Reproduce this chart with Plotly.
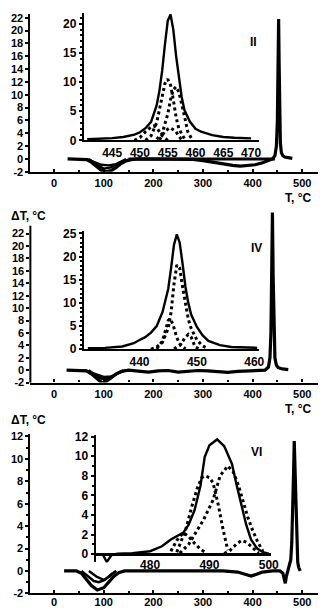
import plotly.graph_objects as go

W, H = 326, 610

# ---------------- Panel II (top) : main DTA curve ----------------
p1_main_T = [27, 40, 55, 65, 75, 85, 95, 105, 115, 125, 135, 145, 155, 170, 200, 250, 280, 300,
             320, 340, 360, 375, 390, 405, 420, 432, 440, 445, 448, 450, 451.5, 452.5, 453.5,
             454.5, 456, 458, 461, 465, 472, 480]
p1_main_dT = [0, 0, 0, -0.1, -0.5, -1.2, -1.75, -1.95, -1.8, -1.3, -0.7, -0.3, -0.1, 0, 0, 0, -0.05,
              -0.25, -0.5, -0.8, -1.0, -1.1, -1.05, -0.9, -0.6, -0.3, 0, 0.5, 2, 6, 14, 21.8, 15,
              7, 2.5, 1.0, 0.5, 0.3, 0.2, 0.1]
p1_base_T = [150, 300, 445]
p1_base_dT = [0, 0, 0]
p1_dipB_T = [65, 80, 95, 110, 125, 140, 155]
p1_dipB_dT = [0, -0.5, -0.9, -1.0, -0.8, -0.35, 0]
p1_dipC_T = [70, 85, 100, 115, 130, 145]
p1_dipC_dT = [0, -0.9, -1.5, -1.3, -0.6, 0]

# Panel II inset
i1_sum_T = [440.5, 443, 445, 447, 449, 450, 451, 452, 453, 453.5, 454, 454.5, 455, 455.5, 456,
            456.5, 457, 457.5, 458, 459, 460, 461, 463, 465, 467, 470]
i1_sum_dT = [0.2, 0.3, 0.4, 0.6, 1.0, 1.4, 2.1, 3.2, 6, 8.5, 12, 16.5, 20.5, 21.6, 19, 14.5, 10.5,
             7.5, 5.2, 3.2, 2.0, 1.5, 0.9, 0.6, 0.45, 0.35]
i1_a_T = [451, 452, 453, 454, 454.5, 455, 455.5, 456, 456.5, 457, 458]
i1_a_dT = [0, 0.8, 3, 7.5, 9.8, 10.5, 9.5, 7, 4, 2, 0.3]
i1_b_T = [453, 454, 455, 455.5, 456, 456.5, 457, 457.5, 458, 458.6, 459.3]
i1_b_dT = [0.2, 1.2, 4.5, 7, 8.7, 9.2, 8.3, 6.5, 4.2, 1.5, 0.3]
i1_c_T = [449, 450, 451, 452, 452.5, 453, 454, 455]
i1_c_dT = [0, 0.5, 1.5, 2.3, 2.5, 2.2, 0.8, 0]
i1_d_T = [453.5, 454.5, 455.4, 456.4, 457.5]
i1_d_dT = [0.1, 1.6, 2.2, 1.6, 0.1]

# ---------------- Panel IV (middle) ----------------
p2_main_T = [25, 40, 55, 65, 75, 85, 95, 100, 105, 115, 125, 135, 150, 170, 190, 210, 230, 250,
             270, 290, 310, 330, 350, 370, 390, 410, 425, 432, 435, 437, 438.5, 440, 441.5, 443,
             445, 448, 452, 460, 472]
p2_main_dT = [0, 0, 0, -0.1, -0.6, -1.3, -1.95, -2.0, -1.8, -1.2, -0.6, -0.2, 0, -0.15, -0.3, -0.1,
              -0.05, -0.3, -0.2, -0.05, -0.1, -0.25, -0.35, -0.2, -0.1, -0.05, 0, 0.5, 2, 6, 14,
              25.4, 15, 6, 2, 0.8, 0.4, 0.2, 0.1]
p2_dipB_T = [60, 80, 100, 115, 130, 145]
p2_dipB_dT = [0, -0.6, -1.1, -1.0, -0.5, 0]
p2_dipC_T = [70, 85, 100, 120, 140]
p2_dipC_dT = [0, -1.0, -1.5, -0.9, 0]

# Panel IV inset
i2_sum_T = [431, 434, 437, 439, 440, 441, 442, 443, 444, 445, 445.5, 446, 446.5, 447, 447.5, 448,
            448.5, 449, 450, 451, 452, 454, 456, 458, 460.5]
i2_sum_dT = [0.2, 0.3, 0.6, 1.3, 2.0, 2.6, 3.6, 5, 8, 13, 17.5, 22.5, 24.8, 23, 18.5, 13.5, 10,
             7.5, 4.8, 3, 1.8, 0.9, 0.5, 0.35, 0.3]
i2_a_T = [442, 443, 444, 445, 445.5, 446, 446.5, 447, 447.5, 448, 448.5, 449, 450, 451, 452]
i2_a_dT = [0, 0.5, 1.5, 4.5, 8, 14, 18.2, 17.5, 13.5, 9.5, 6.5, 4.5, 2, 0.7, 0.1]
i2_b_T = [443, 444, 444.5, 445, 445.3, 445.8, 446.5, 447, 448]
i2_b_dT = [0.1, 1.8, 4, 6.2, 6.6, 5.5, 2.5, 1.2, 0.1]
i2_c_T = [446, 447, 448, 448.5, 449, 449.7, 450.5]
i2_c_dT = [0.1, 0.8, 2.6, 3.2, 2.6, 0.5, 0]

# ---------------- Panel VI (bottom) ----------------
p3_main_T = [20, 35, 45, 55, 65, 75, 87, 100, 110, 120, 130, 142, 160, 200, 250, 300, 340, 370,
             385, 397, 408, 420, 440, 455, 461, 464, 466, 468, 471, 474, 477, 479, 481, 482.5,
             484, 485, 486, 487.5, 489, 491, 493, 496]
p3_main_dT = [0, 0, 0, -0.2, -0.7, -1.3, -1.7, -1.5, -1.0, -0.5, -0.15, 0, 0, 0, -0.05, 0, 0,
              -0.1, -0.3, -0.45, -0.3, -0.1, 0, 0, -0.2, -0.7, -1.1, -0.5, 0, 0.3, 1, 2.5, 5, 8.5,
              11.6, 10, 7, 4, 2, 0.8, 0.3, 0]
p3_dipB_T = [55, 68, 80, 90, 102, 115, 125]
p3_dipB_dT = [0, -0.5, -0.9, -1.0, -0.8, -0.3, 0]
p3_dipC_T = [70, 85, 100, 112, 125]
p3_dipC_dT = [0, -0.5, -0.8, -0.5, 0]

# Panel VI inset
i3_sum_T = [471, 472, 472.7, 473.5, 474.5, 477, 480, 482, 483.5, 485, 485.6, 486.5, 487.5, 488.5,
            489.2, 490, 491.3, 492.5, 493.8, 494.6, 495.4, 496.2, 497, 498, 499, 500]
i3_sum_dT = [0, 0, -0.8, -0.1, 0.05, 0.1, 0.3, 0.8, 1.5, 2.0, 2.2, 3, 4.5, 7, 9.9, 11.1, 11.7, 11,
             9.2, 7, 4.9, 3, 1.5, 0.6, 0.2, 0.05]
i3_a_T = [484.5, 486, 487, 488, 488.7, 489.3, 490, 490.6, 491.5, 492.3, 493.1]
i3_a_dT = [0.2, 2.5, 4.8, 6.8, 7.8, 8, 7.8, 7.3, 5, 2.5, 0.4]
i3_b_T = [485, 486.5, 487.7, 489, 490.6, 491.8, 493.1, 494, 494.9, 495.7, 496.5, 497.3, 498.1, 499]
i3_b_dT = [0.1, 1.0, 2.2, 3.5, 5.5, 8.0, 9.0, 8.4, 7.0, 5.3, 3.7, 2.4, 1.3, 0.3]
i3_c_T = [483.5, 484.5, 485.6, 486.5, 487.5, 488.5, 489.5]
i3_c_dT = [0.3, 1.4, 2.2, 1.8, 1.1, 0.5, 0.1]
i3_d_T = [492.5, 493.5, 494.5, 495.4, 496.3, 497.3, 498.3]
i3_d_dT = [0.05, 0.4, 1.0, 1.4, 1.2, 0.6, 0.1]

main_xticks = [0, 100, 200, 300, 400, 500]
p1_yticks = list(range(-2, 23, 2))
p2_yticks = list(range(-2, 23, 2))
p3_yticks = list(range(-2, 13, 2))
i1_xticks = [445, 450, 455, 460, 465, 470]
i1_yticks = [0, 5, 10, 15, 20]
i2_xticks = [440, 450, 460]
i2_yticks = [0, 5, 10, 15, 20, 25]
i3_xticks = [480, 490, 500]
i3_yticks = [0, 2, 4, 6, 8, 10, 12]

# -------------------------------------------------------------------
fig = go.Figure()
K = "black"


def add(x, y, ax, width=3.0, dash="solid"):
    fig.add_trace(go.Scatter(x=x, y=y, mode="lines", xaxis="x" + ax, yaxis="y" + ax,
                             line=dict(color=K, width=width, dash=dash), hoverinfo="skip",
                             showlegend=False))


# panel II
add(p1_base_T, p1_base_dT, "")
add(p1_dipB_T, p1_dipB_dT, "", 2.4)
add(p1_dipC_T, p1_dipC_dT, "", 2.4)
add(p1_main_T, p1_main_dT, "", 3.2)
add(i1_sum_T, i1_sum_dT, "2", 2.4)
add(i1_a_T, i1_a_dT, "2", 3, "dot")
add(i1_b_T, i1_b_dT, "2", 3, "dot")
add(i1_c_T, i1_c_dT, "2", 3, "dot")
add(i1_d_T, i1_d_dT, "2", 3, "dot")
# panel IV
add(p2_dipB_T, p2_dipB_dT, "3", 2.4)
add(p2_dipC_T, p2_dipC_dT, "3", 2.4)
add(p2_main_T, p2_main_dT, "3", 3.2)
add(i2_sum_T, i2_sum_dT, "4", 2.4)
add(i2_a_T, i2_a_dT, "4", 3, "dot")
add(i2_b_T, i2_b_dT, "4", 3, "dot")
add(i2_c_T, i2_c_dT, "4", 3, "dot")
# panel VI
add(p3_dipB_T, p3_dipB_dT, "5", 2.4)
add(p3_dipC_T, p3_dipC_dT, "5", 2.4)
add(p3_main_T, p3_main_dT, "5", 3.2)
add(i3_sum_T, i3_sum_dT, "6", 2.4)
add(i3_a_T, i3_a_dT, "6", 3, "dot")
add(i3_b_T, i3_b_dT, "6", 3, "dot")
add(i3_c_T, i3_c_dT, "6", 3, "dot")
add(i3_d_T, i3_d_dT, "6", 3, "dot")

FAM = "Liberation Sans, Arial, sans-serif"
TF = dict(family=FAM, size=12, color=K, weight="bold")
TF_MAIN = dict(family=FAM, size=11, color=K, weight="bold")


def px_x(p):
    return p / W


def px_y(p):
    return 1 - p / H


def xax(dom, rng, ticks, anchor, showline=True, inside=True, minor=None, standoff=0, font=TF):
    d = dict(domain=[px_x(dom[0]), px_x(dom[1])], range=rng, tickmode="array", tickvals=ticks,
             ticktext=[str(t) for t in ticks], showgrid=False, zeroline=False,
             showline=showline, linecolor=K, linewidth=2.2, ticks="inside" if inside else "",
             ticklen=3, tickwidth=1.5, tickcolor=K, tickfont=font, anchor=anchor,
             ticklabelstandoff=standoff)
    if minor:
        d["minor"] = minor
    return d


def yax(dom, rng, ticks, anchor, zeroline=False, minor=None, font=TF, showline=True):
    d = dict(domain=[px_y(dom[0]), px_y(dom[1])], range=rng, tickmode="array", tickvals=ticks,
             ticktext=[str(t) for t in ticks], showgrid=False, zeroline=zeroline,
             zerolinecolor=K, zerolinewidth=2.5,
             showline=showline, linecolor=K, linewidth=2, ticks="outside", ticklen=3,
             tickwidth=1.5, tickcolor=K, tickfont=font, anchor=anchor)
    if minor:
        d["minor"] = minor
    return d


main_minor_x = dict(tickmode="array", tickvals=[50, 150, 250, 350, 450, 550], ticks="inside",
                    ticklen=2, tickcolor=K)
minor_y = dict(dtick=1, ticks="outside", ticklen=2, tickcolor=K)

fig.update_layout(
    width=W, height=H, margin=dict(l=0, r=0, t=0, b=0),
    paper_bgcolor="white", plot_bgcolor="rgba(0,0,0,0)",
    xaxis=xax((23, 326), [-48, 546], main_xticks, "y", minor=main_minor_x, font=TF_MAIN),
    yaxis=yax((162, 1.5), [-2, 22.5], p1_yticks, "x", font=TF_MAIN),
    xaxis2=xax((78, 258), [439.9, 471.4], i1_xticks, "y2", inside=False),
    yaxis2=yax((130, 0.5), [0, 21.76], i1_yticks, "x2", minor=minor_y),
    xaxis3=xax((23, 326), [-48, 546], main_xticks, "y3", minor=main_minor_x, font=TF_MAIN),
    yaxis3=yax((377, 201), [-2, 25.8], p2_yticks, "x3", font=TF_MAIN, showline=False),
    xaxis4=xax((78, 258), [430.3, 460.8], i2_xticks, "y4", inside=False),
    yaxis4=yax((343, 222), [0, 25.6], i2_yticks, "x4", minor=minor_y),
    xaxis5=xax((23, 326), [-48, 546], main_xticks, "y5", minor=main_minor_x, font=TF_MAIN,
               standoff=-3),
    yaxis5=yax((592, 429.7), [-2, 12.2], p3_yticks, "x5", minor=minor_y, font=TF_MAIN),
    xaxis6=xax((90, 270), [470.8, 500.3], i3_xticks, "y6", showline=False, inside=False,
               standoff=-6),
    yaxis6=yax((560.5, 430), [-0.85, 12.2], i3_yticks, "x6", zeroline=True, minor=minor_y),
)

# left axis line of the middle panel stops below its "ΔT, °C" title (as in the original)
fig.add_shape(type="line", xref="paper", yref="paper", x0=px_x(23), x1=px_x(23),
              y0=px_y(377), y1=px_y(217), line=dict(color=K, width=2))

AF = dict(family=FAM, size=12, color=K, weight="bold")
notes = [
    ("II", 252, 30, "center"),
    ("IV", 256, 240, "center"),
    ("VI", 256, 448, "center"),
    ("ΔT, °C", 1, 207, "left"),
    ("ΔT, °C", 1, 415, "left"),
    ("T, °C", 298, 189, "center"),
    ("T, °C", 298, 404, "center"),
]
for txt, x, y, xa in notes:
    fig.add_annotation(text=txt, x=px_x(x), y=px_y(y), xref="paper", yref="paper",
                       xanchor=xa, yanchor="middle", showarrow=False, font=AF)

fig.write_html("out.html")
